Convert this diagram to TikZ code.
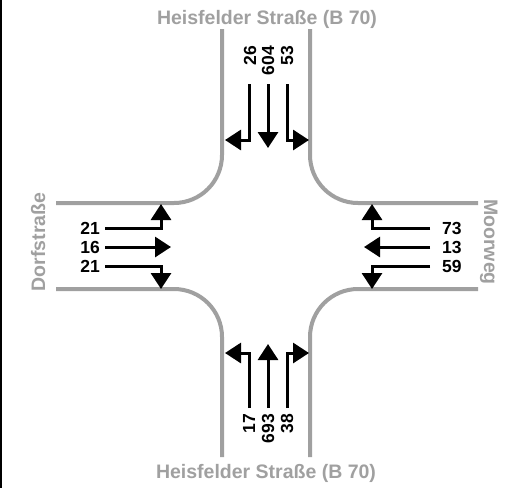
\documentclass[tikz,border=0pt]{standalone}
\usepackage{fontspec}
\setmainfont{Liberation Sans}
\usetikzlibrary{arrows.meta}
\definecolor{roadgray}{RGB}{160,160,160}
\tikzset{
  road/.style={draw=roadgray, line width=4pt, rounded corners=48pt},
  flow/.style={draw=black, line width=3pt, -{Triangle[length=16pt,width=20pt]}},
  num/.style={inner sep=0pt, font=\fontsize{17.5}{18}\selectfont\bfseries},
  roadname/.style={inner sep=0pt, text=roadgray, font=\fontsize{19.5}{21}\selectfont\bfseries},
}
\begin{document}
\begin{tikzpicture}[x=1pt,y=-1pt]
\useasboundingbox (0,0) rectangle (521,488);
\fill[white] (0,0) rectangle (521,488);
\draw[black, line width=2.5pt] (1,0) -- (1,488);
% roads
\draw[road] (222,29) -- (222,203) -- (56,203);
\draw[road] (310,29) -- (310,203) -- (478,203);
\draw[road] (56,289) -- (222,289) -- (222,457);
\draw[road] (478,289) -- (310,289) -- (310,457);
% road names
\node[roadname, anchor=base] (nN) at (267,24) {Heisfelder Straße (B 70)};
\node[roadname, anchor=base] (nS) at (266,478) {Heisfelder Straße (B 70)};
\node[roadname, anchor=base, rotate=90] (nW) at (45,242) {Dorfstraße};
\node[roadname, anchor=base, rotate=-90] (nE) at (484,242) {Moorweg};
% north approach
\coordinate (n1) at (249,84); \coordinate (n1e) at (249,140); \coordinate (n1t) at (225,140);
\coordinate (n2) at (268,84); \coordinate (n2t) at (268,148);
\coordinate (n3) at (287,84); \coordinate (n3e) at (287,140); \coordinate (n3t) at (309,140);
\draw[flow] (n1) -- (n1e) -- (n1t);
\draw[flow] (n2) -- (n2t);
\draw[flow] (n3) -- (n3e) -- (n3t);
\node[num, rotate=90, anchor=east] (ln1) at (250,46) {26};
\node[num, rotate=90, anchor=east] (ln2) at (268,46) {604};
\node[num, rotate=90, anchor=east] (ln3) at (287,46) {53};
% south approach
\coordinate (s1) at (249,408); \coordinate (s1e) at (249,353); \coordinate (s1t) at (225,353);
\coordinate (s2) at (268,408); \coordinate (s2t) at (268,344);
\coordinate (s3) at (287,408); \coordinate (s3e) at (287,353); \coordinate (s3t) at (309,353);
\draw[flow] (s1) -- (s1e) -- (s1t);
\draw[flow] (s2) -- (s2t);
\draw[flow] (s3) -- (s3e) -- (s3t);
\node[num, rotate=90, anchor=east] (ls1) at (249,414) {17};
\node[num, rotate=90, anchor=east] (ls2) at (268,414) {693};
\node[num, rotate=90, anchor=east] (ls3) at (287,414) {38};
% west approach
\coordinate (w1) at (105,228); \coordinate (w1e) at (161,228); \coordinate (w1t) at (161,204);
\coordinate (w2) at (105,247); \coordinate (w2t) at (171,247);
\coordinate (w3) at (105,266); \coordinate (w3e) at (161,266); \coordinate (w3t) at (161,289);
\draw[flow] (w1) -- (w1e) -- (w1t);
\draw[flow] (w2) -- (w2t);
\draw[flow] (w3) -- (w3e) -- (w3t);
\node[num, anchor=east] (lw1) at (100,228) {21};
\node[num, anchor=east] (lw2) at (100,247) {16};
\node[num, anchor=east] (lw3) at (100,266) {21};
% east approach
\coordinate (e1) at (430,228); \coordinate (e1e) at (372,228); \coordinate (e1t) at (372,204);
\coordinate (e2) at (430,247); \coordinate (e2t) at (364,247);
\coordinate (e3) at (430,266); \coordinate (e3e) at (372,266); \coordinate (e3t) at (372,289);
\draw[flow] (e1) -- (e1e) -- (e1t);
\draw[flow] (e2) -- (e2t);
\draw[flow] (e3) -- (e3e) -- (e3t);
\node[num, anchor=west] (le1) at (442,228) {73};
\node[num, anchor=west] (le2) at (442,247) {13};
\node[num, anchor=west] (le3) at (442,266) {59};
\end{tikzpicture}
\end{document}
